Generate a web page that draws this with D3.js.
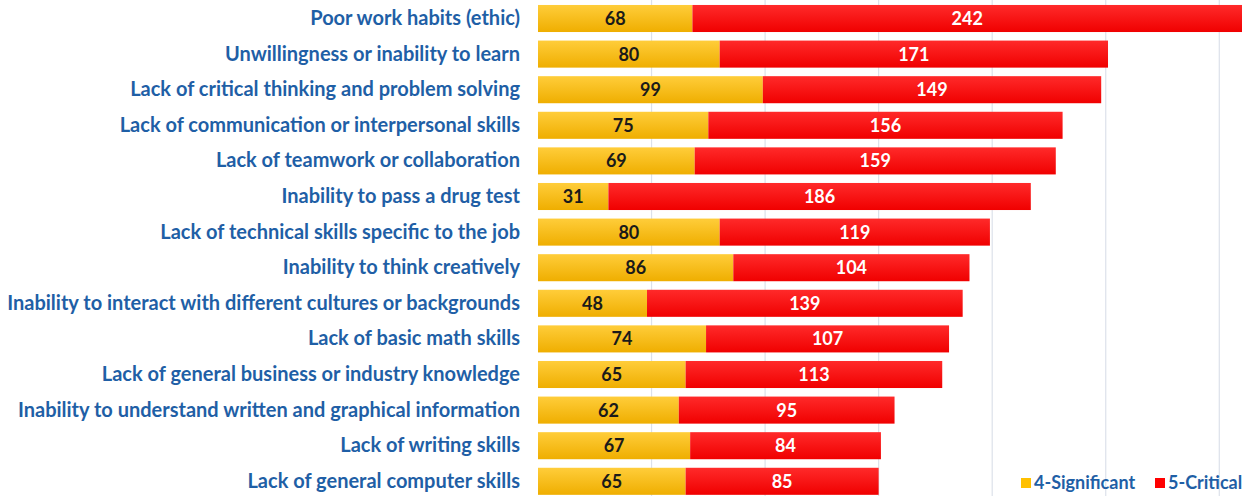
<!DOCTYPE html>
<html>
<head>
<meta charset="utf-8">
<script src="https://cdn.jsdelivr.net/npm/d3@7"></script>
<style>
  html, body { margin: 0; padding: 0; background: #fff; }
  svg { display: block; }
  text { font-family: "Lato", "Open Sans", sans-serif; font-weight: 700; }
</style>
</head>
<body>
<svg id="chart" width="1246" height="496"></svg>
<script>
const categories = [
  "Poor work habits (ethic)",
  "Unwillingness or inability to learn",
  "Lack of critical thinking and problem solving",
  "Lack of communication or interpersonal skills",
  "Lack of teamwork or collaboration",
  "Inability to pass a drug test",
  "Lack of technical skills specific to the job",
  "Inability to think creatively",
  "Inability to interact with different cultures or backgrounds",
  "Lack of basic math skills",
  "Lack of general business or industry knowledge",
  "Inability to understand written and graphical information",
  "Lack of writing skills",
  "Lack of general computer skills"
];
const significant = [68, 80, 99, 75, 69, 31, 80, 86, 48, 74, 65, 62, 67, 65];
const critical    = [242, 171, 149, 156, 159, 186, 119, 104, 139, 107, 113, 95, 84, 85];
const seriesNames = ["4-Significant", "5-Critical"];
const gridTicks = [50, 100, 150, 200, 250, 300];

const svg = d3.select("#chart");
const W = 1246, H = 496;
const left = 538, right = 1242;

const x = d3.scaleLinear().domain([0, 310]).range([left, right]);
const y = d3.scaleBand().domain(categories).range([0.7, 499.1]).paddingInner(0.24).paddingOuter(0.12);

const defs = svg.append("defs");
const gY = defs.append("linearGradient").attr("id", "gradY").attr("x1", 0).attr("x2", 0).attr("y1", 0).attr("y2", 1);
gY.append("stop").attr("offset", "0%").attr("stop-color", "#FFCD3A");
gY.append("stop").attr("offset", "100%").attr("stop-color", "#EFAE00");
const gR = defs.append("linearGradient").attr("id", "gradR").attr("x1", 0).attr("x2", 0).attr("y1", 0).attr("y2", 1);
gR.append("stop").attr("offset", "0%").attr("stop-color", "#FF2A2A");
gR.append("stop").attr("offset", "100%").attr("stop-color", "#F00000");

// vertical gridlines
svg.append("g").selectAll("line").data(gridTicks).join("line")
  .attr("x1", d => x(d)).attr("x2", d => x(d))
  .attr("y1", 0).attr("y2", H)
  .attr("stroke", "#DCE1EA").attr("stroke-width", 1.2);

const rows = categories.map((c, i) => ({ c, s: significant[i], r: critical[i] }));

const g = svg.append("g");
g.selectAll("rect.sig").data(rows).join("rect")
  .attr("class", "sig")
  .attr("x", x(0)).attr("y", d => y(d.c))
  .attr("width", d => x(d.s) - x(0)).attr("height", y.bandwidth())
  .attr("fill", "url(#gradY)");
g.selectAll("rect.crit").data(rows).join("rect")
  .attr("class", "crit")
  .attr("x", d => x(d.s)).attr("y", d => y(d.c))
  .attr("width", d => x(d.s + d.r) - x(d.s)).attr("height", y.bandwidth())
  .attr("fill", "url(#gradR)");

// value labels
g.selectAll("text.sv").data(rows).join("text")
  .attr("class", "sv")
  .attr("x", d => x(d.s / 2)).attr("y", d => y(d.c) + y.bandwidth() / 2)
  .attr("dy", "0.36em").attr("text-anchor", "middle")
  .attr("font-size", 18).attr("font-weight", 800).attr("fill", "#1a1a1a")
  .text(d => d.s);
g.selectAll("text.cv").data(rows).join("text")
  .attr("class", "cv")
  .attr("x", d => x(d.s + d.r / 2)).attr("y", d => y(d.c) + y.bandwidth() / 2)
  .attr("dy", "0.36em").attr("text-anchor", "middle")
  .attr("font-size", 18).attr("font-weight", 800).attr("fill", "#ffffff")
  .text(d => d.r);

// category axis
const yAxis = svg.append("g").attr("transform", `translate(${left - 18},0)`)
  .call(d3.axisLeft(y).tickSize(0).tickPadding(0));
yAxis.select(".domain").remove();
yAxis.selectAll("text")
  .attr("font-size", 20).attr("fill", "#1F5FA6")
  .attr("font-family", "Lato, sans-serif").attr("font-weight", 700);

// legend
const legend = svg.append("g").attr("transform", "translate(1021,483)");
const legItems = [
  { name: seriesNames[0], fill: "#FFC000", x: 0 },
  { name: seriesNames[1], fill: "#FF0000", x: 134 }
];
const li = legend.selectAll("g").data(legItems).join("g").attr("transform", d => `translate(${d.x},0)`);
li.append("rect").attr("x", 0).attr("y", -5).attr("width", 10).attr("height", 10).attr("fill", d => d.fill);
li.append("text").attr("x", 13).attr("y", 0).attr("dy", "0.36em")
  .attr("font-size", 18).attr("fill", "#1F5FA6").text(d => d.name);
</script>
</body>
</html>
